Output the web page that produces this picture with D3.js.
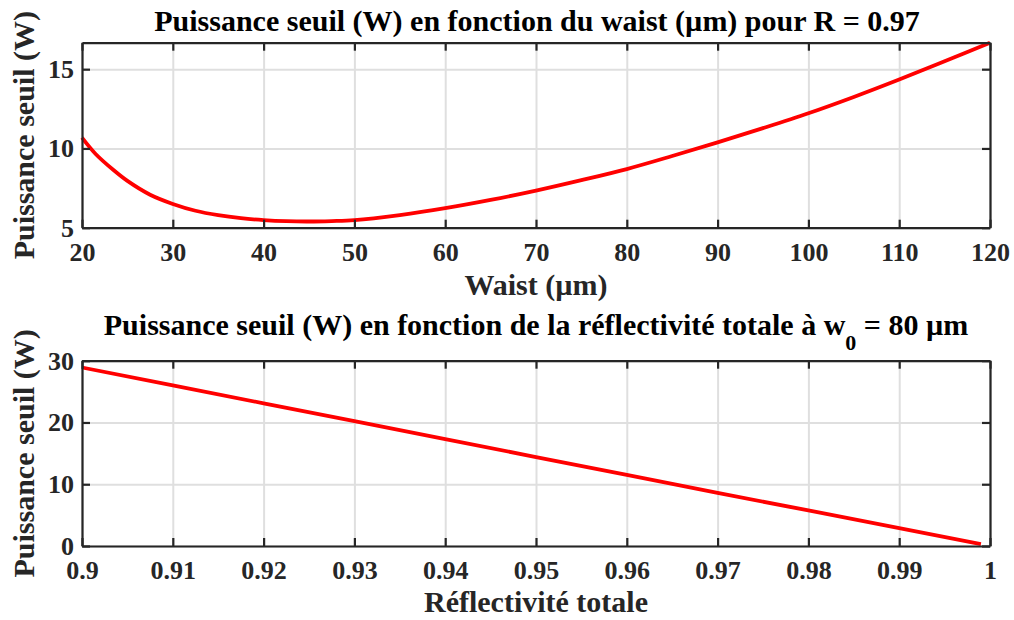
<!DOCTYPE html>
<html>
<head>
<meta charset="utf-8">
<script src="https://cdn.jsdelivr.net/npm/d3@7"></script>
<style>
  body { margin: 0; background: #fff; }
  svg text { font-family: "Liberation Serif", "Times New Roman", Times, "DejaVu Serif", serif; font-weight: bold; }
</style>
</head>
<body>
<div id="chart"></div>
<script>
// subplot 1 : threshold power vs waist (R = 0.97)
var waist = [20, 21.5, 23.5, 25, 27.5, 30, 32.5, 35, 37.5, 40, 42.5, 45, 47.5, 50, 55, 60, 65, 70, 75, 80, 85, 90, 95, 100, 105, 110, 115, 120];
var pWaist = [10.68, 9.65, 8.62, 7.95, 7.08, 6.5, 6.07, 5.79, 5.6, 5.48, 5.41, 5.39, 5.42, 5.48, 5.8, 6.23, 6.75, 7.34, 8.0, 8.7, 9.52, 10.38, 11.28, 12.22, 13.25, 14.35, 15.5, 16.67];
var waistTicks = [20, 30, 40, 50, 60, 70, 80, 90, 100, 110, 120];
var pWaistTicks = [5, 10, 15];

// subplot 2 : threshold power vs reflectivity (w0 = 80 um)
var refl = [0.9, 0.91, 0.92, 0.93, 0.94, 0.95, 0.96, 0.97, 0.98, 0.99, 0.999];
var pRefl = [28.9, 26.0, 23.1, 20.2, 17.3, 14.4, 11.5, 8.6, 5.75, 2.88, 0.3];
var reflTicks = [0.9, 0.91, 0.92, 0.93, 0.94, 0.95, 0.96, 0.97, 0.98, 0.99, 1];
var pReflTicks = [0, 10, 20, 30];

var svgWidth = 1014;
var svgHeight = 620;
var fs = 26;      // tick labels
var fsLab = 30;   // axis labels and titles
var serif = "'Liberation Serif', 'Times New Roman', Times, 'DejaVu Serif', serif";

var svg = d3.select("#chart")
.append("svg")
.attr("width", svgWidth)
.attr("height", svgHeight);

function subplot(cfg) {
  var width = cfg.right - cfg.left;
  var height = cfg.bottom - cfg.top;

  var x = d3.scaleLinear().domain(cfg.xDomain).range([0, width]);
  var y = d3.scaleLinear().domain(cfg.yDomain).range([height, 0]);

  var g = svg.append("g")
  .attr("transform", `translate(${cfg.left}, ${cfg.top})`);

  // grid
  g.append("g")
  .attr("class", "grid")
  .attr("transform", `translate(0, ${height})`)
  .call(d3.axisBottom(x).tickValues(cfg.xTicks).tickSize(-height).tickFormat(""));
  g.append("g")
  .attr("class", "grid")
  .call(d3.axisLeft(y).tickValues(cfg.yTicks).tickSize(-width).tickFormat(""));
  g.selectAll(".grid .domain").remove();
  g.selectAll(".grid line").attr("stroke", "#dfdfdf").attr("stroke-width", 2);

  // curve
  g.append("path")
  .datum(cfg.xs.map((d, i) => [d, cfg.ys[i]]))
  .attr("fill", "none")
  .attr("stroke", "#ff0000")
  .attr("stroke-width", 3.8)
  .attr("stroke-linejoin", "round")
  .attr("d", d3.line().x(d => x(d[0])).y(d => y(d[1])).curve(cfg.curve));

  // axes with inward ticks
  var bottomAxis = d3.axisBottom(x).tickValues(cfg.xTicks).tickSizeInner(-8).tickSizeOuter(0).tickPadding(15).tickFormat(d3.format("~g"));
  var leftAxis = d3.axisLeft(y).tickValues(cfg.yTicks).tickSizeInner(-8).tickSizeOuter(0).tickPadding(8).tickFormat(d3.format("~g"));
  var topAxis = d3.axisTop(x).tickValues(cfg.xTicks).tickSizeInner(-8).tickSizeOuter(0).tickFormat("");
  var rightAxis = d3.axisRight(y).tickValues(cfg.yTicks).tickSizeInner(-8).tickSizeOuter(0).tickFormat("");

  g.append("g").attr("class", "ax").attr("transform", `translate(0, ${height})`).call(bottomAxis);
  g.append("g").attr("class", "ax").call(leftAxis);
  g.append("g").attr("class", "ax").call(topAxis);
  g.append("g").attr("class", "ax").attr("transform", `translate(${width}, 0)`).call(rightAxis);

  g.selectAll(".ax").attr("font-family", null).attr("font-size", null);
  g.selectAll(".ax .domain").attr("stroke", "#262626").attr("stroke-width", 2.2);
  g.selectAll(".ax line").attr("stroke", "#262626").attr("stroke-width", 2.2);
  g.selectAll(".ax text")
  .attr("fill", "#262626")
  .style("font-size", fs + "px")
  .style("font-family", serif)
  .style("font-weight", "bold");

  // y label
  g.append("text")
  .attr("transform", "rotate(-90)")
  .attr("x", -height / 2)
  .attr("y", cfg.yLabelX - cfg.left)
  .attr("text-anchor", "middle")
  .attr("fill", "#262626")
  .style("font-size", fsLab + "px")
  .text("Puissance seuil (W)");

  // x label
  g.append("text")
  .attr("x", width / 2)
  .attr("y", cfg.xLabelY - cfg.top)
  .attr("text-anchor", "middle")
  .attr("fill", "#262626")
  .style("font-size", fsLab + "px")
  .text(cfg.xLabel);

  return g;
}

subplot({
  left: 82, right: 990, top: 42.7, bottom: 227.7,
  xDomain: [20, 120], yDomain: [5, 16.67],
  xTicks: waistTicks, yTicks: pWaistTicks,
  xs: waist, ys: pWaist, curve: d3.curveCatmullRom,
  xLabel: "Waist (µm)", xLabelY: 295, yLabelX: 34
});

subplot({
  left: 82, right: 990, top: 360.7, bottom: 546,
  xDomain: [0.9, 1], yDomain: [0, 30],
  xTicks: reflTicks, yTicks: pReflTicks,
  xs: refl, ys: pRefl, curve: d3.curveLinear,
  xLabel: "Réflectivité totale", xLabelY: 612, yLabelX: 34
});

// titles
svg.append("text")
.attr("x", 537)
.attr("y", 31)
.attr("text-anchor", "middle")
.attr("fill", "#000")
.style("font-size", fsLab + "px")
.text("Puissance seuil (W) en fonction du waist (µm) pour R = 0.97");

var t2 = svg.append("text")
.attr("x", 536)
.attr("y", 335)
.attr("text-anchor", "middle")
.attr("fill", "#000")
.style("font-size", fsLab + "px");
t2.append("tspan").text("Puissance seuil (W) en fonction de la réflectivité totale à w");
t2.append("tspan").attr("dy", 15).style("font-size", "22px").text("0");
t2.append("tspan").attr("dy", -15).text(" = 80 µm");
</script>
</body>
</html>
